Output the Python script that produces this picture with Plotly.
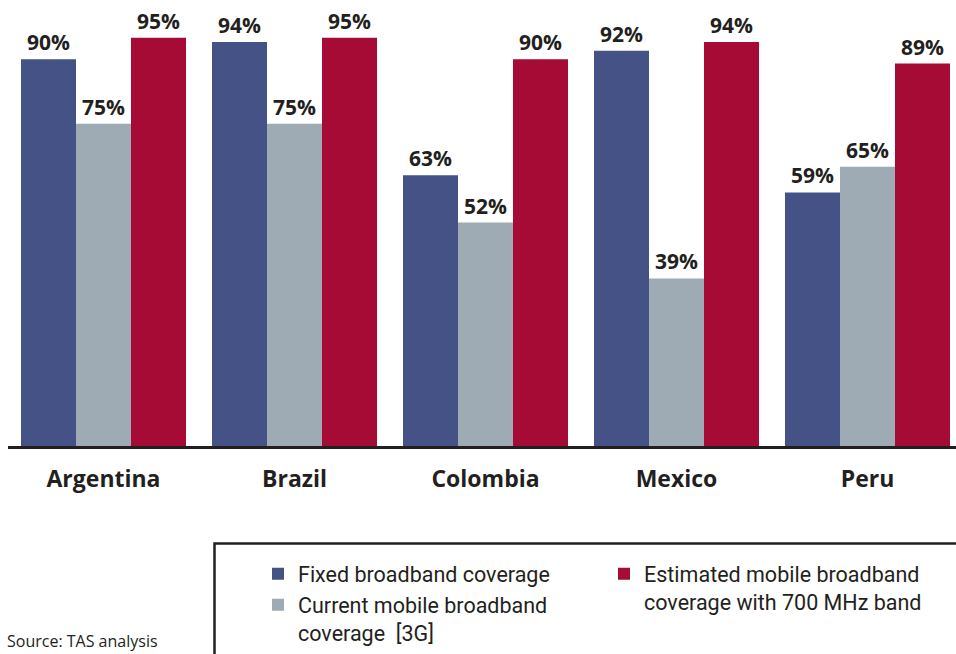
import plotly.graph_objects as go

countries = ["Argentina", "Brazil", "Colombia", "Mexico", "Peru"]
fixed_bb = [90, 94, 63, 92, 59]
current_mobile = [75, 75, 52, 39, 65]
estimated_700 = [95, 95, 90, 94, 89]

series_names = [
    "Fixed broadband coverage",
    "Current mobile broadband<br>coverage  [3G]",
    "Estimated mobile broadband<br>coverage with 700 MHz band",
]
colors = ["#455285", "#9EABB5", "#A50B35"]
text_color = "#231f20"

W, H = 956, 654
ML, MR, MT = 8, 0, 0
PLOT_BOTTOM = 446.5
MB = H - PLOT_BOTTOM


def px_x(p):
    return (p - ML) / (W - ML - MR)


def px_y(p):
    return (PLOT_BOTTOM - p) / (PLOT_BOTTOM - MT)


fig = go.Figure()
for name, vals, col, leg in zip(series_names, [fixed_bb, current_mobile, estimated_700], colors,
                                ["legend", "legend", "legend2"]):
    fig.add_trace(go.Bar(
        x=countries, y=vals, name=name,
        marker=dict(color=col, line=dict(width=0)),
        text=[f"{v}%" for v in vals], textposition="outside",
        textfont=dict(family="Open Sans", size=21, color=text_color, weight="bold"),
        cliponaxis=False, legend=leg, hoverinfo="skip",
    ))

legend_font = dict(family="Roboto", size=21.5, color=text_color)

fig.update_layout(
    width=W, height=H,
    margin=dict(l=ML, r=MR, t=MT, b=MB, autoexpand=False),
    paper_bgcolor="white", plot_bgcolor="white",
    barmode="group", bargap=26 / 191, bargroupgap=0,
    xaxis=dict(
        range=[-0.5, 4.5 - 7 / 191],
        showline=True, linecolor=text_color, linewidth=2.5,
        showgrid=False, ticks="", ticklabelstandoff=11,
        tickfont=dict(family="Open Sans", size=23, color=text_color, weight="bold"),
    ),
    yaxis=dict(range=[0, 103.8], visible=False, showgrid=False),
    legend=dict(
        x=px_x(258), y=px_y(554), xanchor="left", yanchor="top",
        orientation="v", font=legend_font, bgcolor="rgba(0,0,0,0)",
        valign="top", traceorder="normal",
    ),
    legend2=dict(
        x=px_x(604), y=px_y(554), xanchor="left", yanchor="top",
        orientation="v", font=legend_font, bgcolor="rgba(0,0,0,0)",
        valign="top",
    ),
    shapes=[dict(
        type="rect", xref="paper", yref="paper",
        x0=px_x(214.5), x1=px_x(970), y0=px_y(544), y1=px_y(700),
        line=dict(color=text_color, width=2.5), fillcolor="rgba(0,0,0,0)",
    )],
    annotations=[dict(
        text="Source: TAS analysis", xref="paper", yref="paper",
        x=px_x(5), y=px_y(629), xanchor="left", yanchor="top", showarrow=False,
        font=dict(family="Open Sans", size=16, color=text_color),
    )],
)

fig.write_html(
    "out.html",
    config={"displayModeBar": False},
    post_script="document.body.style.margin='0';document.body.style.overflow='hidden';",
)
